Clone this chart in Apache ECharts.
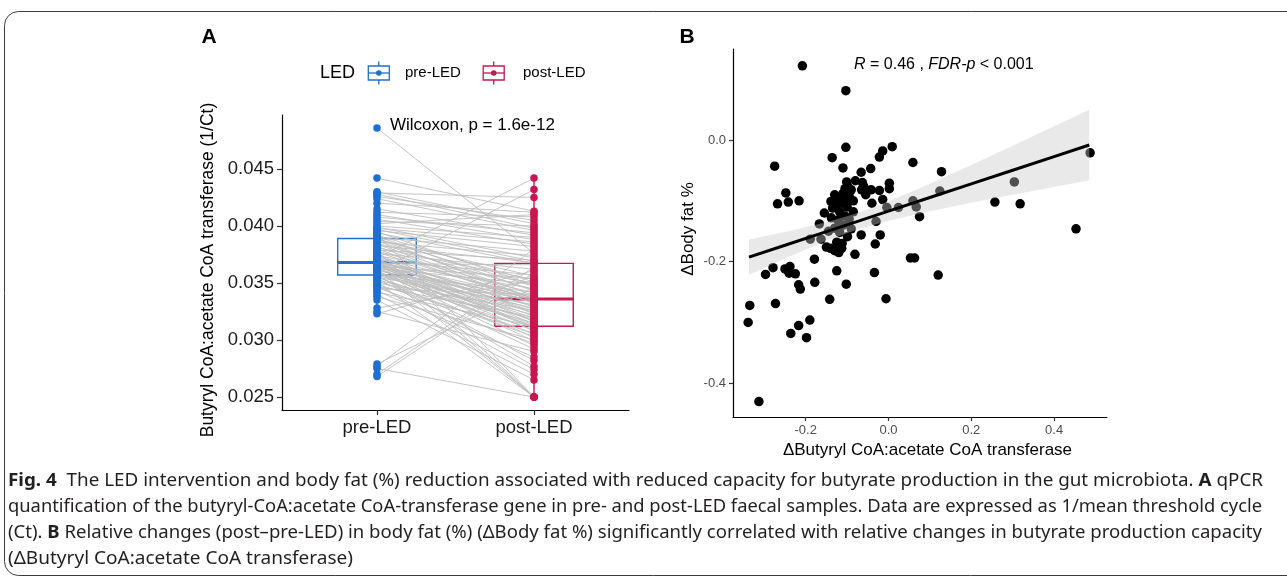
<!DOCTYPE html>
<html><head><meta charset="utf-8">
<script src="https://cdn.jsdelivr.net/npm/echarts@6/dist/echarts.min.js"></script>
<style>html,body{margin:0;padding:0;background:#fff}#c{width:1287px;height:580px}</style>
</head><body><div id="c"></div>
<script>
// ---------- Panel A data (paired, subject order) ----------
const categoriesA = ['pre-LED', 'post-LED'];
const preLED = [0.0268,0.0270,0.0275,0.0277,0.0279,0.0323,0.0325,0.0328,
0.0335,0.0338,0.0340,0.0342,0.0343,0.0345,0.0346,0.0347,0.0348,0.0349,0.0350,0.0351,0.0352,0.0353,0.0354,0.0355,0.0355,0.0356,0.0357,
0.0357,0.0358,0.0358,0.0359,0.0359,0.0360,0.0360,0.0361,0.0361,0.0362,0.0362,0.0363,0.0363,0.0364,0.0364,0.0364,0.0365,0.0365,0.0366,0.0366,0.0366,0.0367,0.0367,0.0367,0.0368,0.0368,0.0368,
0.0368,0.0369,0.0369,0.0370,0.0370,0.0371,0.0372,0.0372,0.0373,0.0374,0.0374,0.0375,0.0376,0.0377,0.0378,0.0378,0.0379,0.0380,0.0381,0.0382,0.0383,0.0384,0.0385,0.0386,0.0387,0.0388,0.0389,
0.0389,0.0390,0.0391,0.0392,0.0393,0.0394,0.0395,0.0396,0.0397,0.0398,0.0399,0.0400,0.0402,0.0404,0.0406,0.0408,0.0410,0.0412,0.0415,0.0420,0.0424,0.0426,0.0428,0.0429,0.0430,0.0442,0.0486];
const postLED = [0.0359,0.0364,0.0250,0.0380,0.0346,0.0361,0.0290,0.0352,
0.0265,0.0300,0.0270,0.0312,0.0285,0.0340,0.0297,0.0320,0.0274,0.0306,0.0326,0.0250,0.0303,0.0315,0.0282,0.0331,0.0309,0.0292,0.0318,
0.0277,0.0322,0.0342,0.0305,0.0328,0.0432,0.0312,0.0295,0.0334,0.0250,0.0317,0.0349,0.0308,0.0324,0.0336,0.0299,0.0313,0.0354,0.0330,0.0302,0.0319,0.0366,0.0327,0.0310,0.0337,0.0321,0.0345,
0.0311,0.0333,0.0250,0.0325,0.0357,0.0314,0.0442,0.0329,0.0338,0.0316,0.0350,0.0323,0.0362,0.0335,0.0250,0.0341,0.0370,0.0332,0.0353,0.0334,0.0368,0.0336,0.0344,0.0374,0.0339,0.0356,0.0347,
0.0336,0.0378,0.0343,0.0351,0.0250,0.0367,0.0348,0.0382,0.0369,0.0386,0.0372,0.0390,0.0410,0.0400,0.0384,0.0394,0.0388,0.0408,0.0392,0.0412,0.0396,0.0405,0.0398,0.0425,0.0402,0.0413,0.0376];
const yTicksA = [0.025, 0.030, 0.035, 0.040, 0.045];
const wilcoxonLabel = 'Wilcoxon, p = 1.6e-12';

// ---------- Panel B data ----------
const deltaButyryl = [-0.208,-0.103,-0.275,-0.136,-0.103,-0.022,-0.014,0.009,0.059,0.487,
-0.110,-0.066,-0.043,0.128,-0.248,-0.268,-0.242,-0.216,-0.139,-0.101,
-0.099,-0.063,-0.060,-0.065,-0.090,-0.042,-0.022,0.002,0.002,-0.040,
-0.014,-0.004,0.024,0.059,0.067,0.075,0.124,0.304,0.257,0.318,
0.453,-0.167,-0.189,-0.163,-0.099,-0.066,-0.020,-0.032,-0.081,-0.179,
-0.125,-0.034,0.053,0.063,0.120,-0.297,-0.279,-0.250,-0.238,-0.240,
-0.225,-0.217,-0.213,-0.178,-0.102,-0.142,-0.006,-0.335,-0.273,-0.339,
-0.190,-0.217,-0.236,-0.198,-0.313,-0.130,-0.120,-0.110,-0.105,-0.095,
-0.135,-0.125,-0.112,-0.118,-0.100,-0.085,-0.138,-0.122,-0.105,-0.095,
-0.110,-0.130,-0.090,-0.140,-0.130,-0.120,-0.113,-0.112,-0.150,-0.125,
-0.080,-0.055,-0.145,-0.030,-0.155,-0.085,-0.118,-0.100];
const deltaBodyFat = [0.122,0.081,-0.043,-0.029,-0.012,-0.028,-0.018,-0.011,-0.037,-0.021,
-0.046,-0.053,-0.047,-0.052,-0.087,-0.105,-0.102,-0.100,-0.101,-0.069,
-0.076,-0.070,-0.076,-0.082,-0.082,-0.082,-0.083,-0.071,-0.080,-0.104,
-0.098,-0.111,-0.111,-0.100,-0.110,-0.126,-0.084,-0.069,-0.102,-0.105,
-0.146,-0.138,-0.163,-0.163,-0.159,-0.156,-0.156,-0.171,-0.188,-0.196,
-0.215,-0.218,-0.194,-0.194,-0.222,-0.221,-0.210,-0.212,-0.208,-0.219,
-0.220,-0.238,-0.245,-0.234,-0.237,-0.262,-0.261,-0.272,-0.269,-0.300,
-0.296,-0.305,-0.318,-0.325,-0.430,-0.090,-0.095,-0.088,-0.080,-0.092,
-0.112,-0.107,-0.104,-0.118,-0.110,-0.100,-0.128,-0.132,-0.125,-0.130,
-0.140,-0.145,-0.146,-0.178,-0.182,-0.185,-0.178,-0.170,-0.176,-0.168,
-0.067,-0.090,-0.150,-0.134,-0.120,-0.118,-0.152,-0.098];
const xTicksB = [-0.2, 0.0, 0.2, 0.4];
const yTicksB = [-0.4, -0.2, 0.0];
// fitted line and 95% band
const fitX   = [-0.337,-0.25,-0.15,-0.08,0,0.1,0.2,0.3,0.4,0.485];
const fitY   = [-0.1926,-0.1731,-0.1506,-0.1349,-0.117,-0.0946,-0.0721,-0.0497,-0.0273,-0.0082];
const ciLow  = [-0.2216,-0.1948,-0.1658,-0.1484,-0.1327,-0.1171,-0.1032,-0.0900,-0.0771,-0.0662];
const ciHigh = [-0.1636,-0.1514,-0.1354,-0.1214,-0.1013,-0.0721,-0.0410,-0.0094,0.0225,0.0498];

// ---------- caption ----------
const captionLines = [
  [{t:'Fig. 4', b:1},{t:'  The LED intervention and body fat (%) reduction associated with reduced capacity for butyrate production in the gut microbiota. '},{t:'A', b:1},{t:' qPCR'}],
  [{t:'quantification of the butyryl-CoA:acetate CoA-transferase gene in pre- and post-LED faecal samples. Data are expressed as 1/mean threshold cycle'}],
  [{t:'(Ct). '},{t:'B', b:1},{t:' Relative changes (post\u2013pre-LED) in body fat (%) (\u0394Body fat %) significantly correlated with relative changes in butyrate production capacity'}],
  [{t:'(\u0394Butyryl CoA:acetate CoA transferase)'}]
];

const FONT = '"Liberation Sans", Arial, sans-serif';
const COLORS = ['#1F6FD2', '#C8164E'];

function quant(s, p){ const h=(s.length-1)*p, lo=Math.floor(h); return lo+1<s.length ? s[lo]+(h-lo)*(s[lo+1]-s[lo]) : s[lo]; }
function boxStats(arr, x){
  const s=[...arr].sort((a,b)=>a-b);
  const q1=quant(s,0.25), md=quant(s,0.5), q3=quant(s,0.75), iqr=q3-q1;
  const lo=Math.min(...s.filter(v=>v>=q1-1.5*iqr)), hi=Math.max(...s.filter(v=>v<=q3+1.5*iqr));
  return [x, lo, q1, md, q3, hi];
}
const boxData = [boxStats(preLED,1), boxStats(postLED,2)];

const chart = echarts.init(document.getElementById('c'), null, {renderer:'canvas'});

// caption graphics scaled to the justified widths
const ctx = document.createElement('canvas').getContext('2d');
const CAP_FONT = '"Noto Sans", sans-serif', CAP_SIZE = 18;
const capTargets = [[8,1263,481],[8,1262,507],[8,1262,533],[8,353,559]];
const captionGraphics = captionLines.map((segs,i)=>{
  let w=0;
  segs.forEach(s=>{ ctx.font=(s.b?'bold ':'')+CAP_SIZE+'px '+CAP_FONT; w+=ctx.measureText(s.t).width; });
  const [x0,x1,y]=capTargets[i];
  return {type:'text', x:x0, y:y, scaleX:(x1-x0)/w, silent:true,
    style:{text:segs.map(s=>s.b?'{b|'+s.t+'}':s.t).join(''), fontFamily:CAP_FONT, fontSize:CAP_SIZE, fill:'#231f20', verticalAlign:'middle',
      rich:{b:{fontWeight:'bold', fontFamily:CAP_FONT, fontSize:CAP_SIZE, fill:'#231f20'}}}};
});

function legendIcon(cx, color){
  return {type:'group', x:cx, y:73, silent:true, children:[
    {type:'line', shape:{x1:0,y1:-11.5,x2:0,y2:11.5}, style:{stroke:color,lineWidth:1.3}},
    {type:'rect', shape:{x:-10.5,y:-7,width:21,height:14}, style:{fill:'#fff',stroke:color,lineWidth:1.3}},
    {type:'line', shape:{x1:-10.5,y1:0,x2:10.5,y2:0}, style:{stroke:color,lineWidth:1.3}},
    {type:'circle', shape:{cx:0,cy:0,r:2.8}, style:{fill:color}}
  ]};
}

const axisLineStyle = {onZero:false, lineStyle:{color:'#000',width:1.2}};
const option = {
  animation:false,
  textStyle:{fontFamily:FONT},
  grid:[
    {left:282, top:115, width:347, height:295},
    {left:733, top:49, width:374, height:368}
  ],
  xAxis:[
    {gridIndex:0, type:'value', min:0.395, max:2.605, splitLine:{show:false}, axisLine:axisLineStyle,
     axisTick:{customValues:[1,2], length:5, lineStyle:{color:'#333',width:1.2}},
     axisLabel:{customValues:[1,2], formatter:v=>categoriesA[Math.round(v)-1], fontSize:18.5, color:'#1a1a1a', margin:8}},
    {gridIndex:1, type:'value', min:-0.3756, max:0.5278, splitLine:{show:false}, axisLine:axisLineStyle,
     axisTick:{customValues:xTicksB, length:4, lineStyle:{color:'#333',width:1.2}},
     axisLabel:{customValues:xTicksB, formatter:v=>v.toFixed(1), fontSize:13, color:'#4d4d4d', margin:7}}
  ],
  yAxis:[
    {gridIndex:0, type:'value', min:0.02386, max:0.049737, splitLine:{show:false}, axisLine:axisLineStyle,
     axisTick:{customValues:yTicksA, length:5, lineStyle:{color:'#333',width:1.2}},
     axisLabel:{customValues:yTicksA, formatter:v=>v.toFixed(3), fontSize:18.5, color:'#1a1a1a', margin:8}},
    {gridIndex:1, type:'value', min:-0.4554, max:0.1496, splitLine:{show:false}, axisLine:axisLineStyle,
     axisTick:{customValues:yTicksB, length:4, lineStyle:{color:'#333',width:1.2}},
     axisLabel:{customValues:yTicksB, formatter:v=>v.toFixed(1), fontSize:13, color:'#4d4d4d', margin:7}}
  ],
  series:[
    {type:'custom', xAxisIndex:0, yAxisIndex:0, z:1, silent:true,
     data:boxData, encode:{x:0, y:[1,2,3,4,5]},
     renderItem:(params, api)=>{
       const x=api.value(0), c=COLORS[params.dataIndex];
       const pLo=api.coord([x,api.value(1)]), pQ1=api.coord([x-0.25,api.value(2)]), pMd=api.coord([x,api.value(3)]),
             pQ3=api.coord([x+0.25,api.value(4)]), pHi=api.coord([x,api.value(5)]);
       const xl=pQ1[0], xr=pQ3[0];
       return {type:'group', children:[
         {type:'line', shape:{x1:pHi[0],y1:pHi[1],x2:pHi[0],y2:pQ3[1]}, style:{stroke:c,lineWidth:1.4}},
         {type:'line', shape:{x1:pLo[0],y1:pLo[1],x2:pLo[0],y2:pQ1[1]}, style:{stroke:c,lineWidth:1.4}},
         {type:'rect', shape:{x:xl,y:pQ3[1],width:xr-xl,height:pQ1[1]-pQ3[1]}, style:{fill:'#fff',stroke:c,lineWidth:1.4}},
         {type:'line', shape:{x1:xl,y1:pMd[1],x2:xr,y2:pMd[1]}, style:{stroke:c,lineWidth:3}}
       ]};
     }},
    {type:'lines', coordinateSystem:'cartesian2d', xAxisIndex:0, yAxisIndex:0, z:2, silent:true,
     data:preLED.map((v,i)=>({coords:[[1,v],[2,postLED[i]]]})),
     lineStyle:{color:'#bdbdbd', width:0.9, opacity:1}},
    {type:'scatter', name:categoriesA[0], xAxisIndex:0, yAxisIndex:0, z:3, symbolSize:7.5,
     data:preLED.map(v=>[1,v]), itemStyle:{color:COLORS[0], opacity:1}},
    {type:'scatter', name:categoriesA[1], xAxisIndex:0, yAxisIndex:0, z:3, symbolSize:7.5,
     data:postLED.map(v=>[2,v]), itemStyle:{color:COLORS[1], opacity:1}},

    {type:'scatter', xAxisIndex:1, yAxisIndex:1, z:2, symbolSize:9.5,
     data:deltaButyryl.map((x,i)=>[x, deltaBodyFat[i]]), itemStyle:{color:'#000', opacity:1}},
    {type:'custom', xAxisIndex:1, yAxisIndex:1, z:3, silent:true,
     data:[[fitX[0], fitY[0]]], encode:{x:0,y:1},
     renderItem:(params, api)=>{
       const pts = fitX.map((x,i)=>api.coord([x,ciHigh[i]])).concat(fitX.map((x,i)=>api.coord([x,ciLow[i]])).reverse());
       return {type:'polygon', shape:{points:pts}, style:{fill:'rgba(200,200,200,0.4)'}};
     }},
    {type:'line', xAxisIndex:1, yAxisIndex:1, z:4, silent:true, symbol:'none',
     data:fitX.map((x,i)=>[x, fitY[i]]), lineStyle:{color:'#000', width:3}}
  ],
  graphic:[
    {type:'rect', silent:true, z:-10, shape:{x:4.5,y:11.5,width:1330,height:564,r:14}, style:{fill:'none',stroke:'#3c3c3c',lineWidth:1}},
    {type:'text', x:209, y:37, silent:true, style:{text:'A', fontFamily:FONT, fontWeight:'bold', fontSize:21, fill:'#000', align:'center', verticalAlign:'middle'}},
    {type:'text', x:687, y:37, silent:true, style:{text:'B', fontFamily:FONT, fontWeight:'bold', fontSize:21, fill:'#000', align:'center', verticalAlign:'middle'}},
    {type:'text', x:320, y:73, silent:true, style:{text:'LED', fontFamily:FONT, fontSize:18, fill:'#000', verticalAlign:'middle'}},
    legendIcon(378.8, COLORS[0]),
    {type:'text', x:405, y:73, silent:true, style:{text:categoriesA[0], fontFamily:FONT, fontSize:15, fill:'#000', verticalAlign:'middle'}},
    legendIcon(493.7, COLORS[1]),
    {type:'text', x:523, y:73, silent:true, style:{text:categoriesA[1], fontFamily:FONT, fontSize:15, fill:'#000', verticalAlign:'middle'}},
    {type:'text', x:390, y:125, silent:true, style:{text:wilcoxonLabel, fontFamily:FONT, fontSize:17, fill:'#000', verticalAlign:'middle'}},
    {type:'text', x:208, y:270, rotation:Math.PI/2, silent:true, style:{text:'Butyryl CoA:acetate CoA transferase (1/Ct)', fontFamily:FONT, fontSize:17.5, fill:'#000', align:'center', verticalAlign:'middle'}},
    {type:'text', x:854, y:65, silent:true, style:{text:'{i|R} = 0.46 , {i|FDR-p} < 0.001', fontFamily:FONT, fontSize:16, fill:'#000', verticalAlign:'middle',
      rich:{i:{fontStyle:'italic', fontFamily:FONT, fontSize:16, fill:'#000'}}}},
    {type:'text', x:927.5, y:450, silent:true, style:{text:'\u0394Butyryl CoA:acetate CoA transferase', fontFamily:FONT, fontSize:17, fill:'#000', align:'center', verticalAlign:'middle'}},
    {type:'text', x:688, y:229, rotation:Math.PI/2, silent:true, style:{text:'\u0394Body fat %', fontFamily:FONT, fontSize:17, fill:'#000', align:'center', verticalAlign:'middle'}}
  ].concat(captionGraphics)
};
chart.setOption(option);
</script></body></html>
